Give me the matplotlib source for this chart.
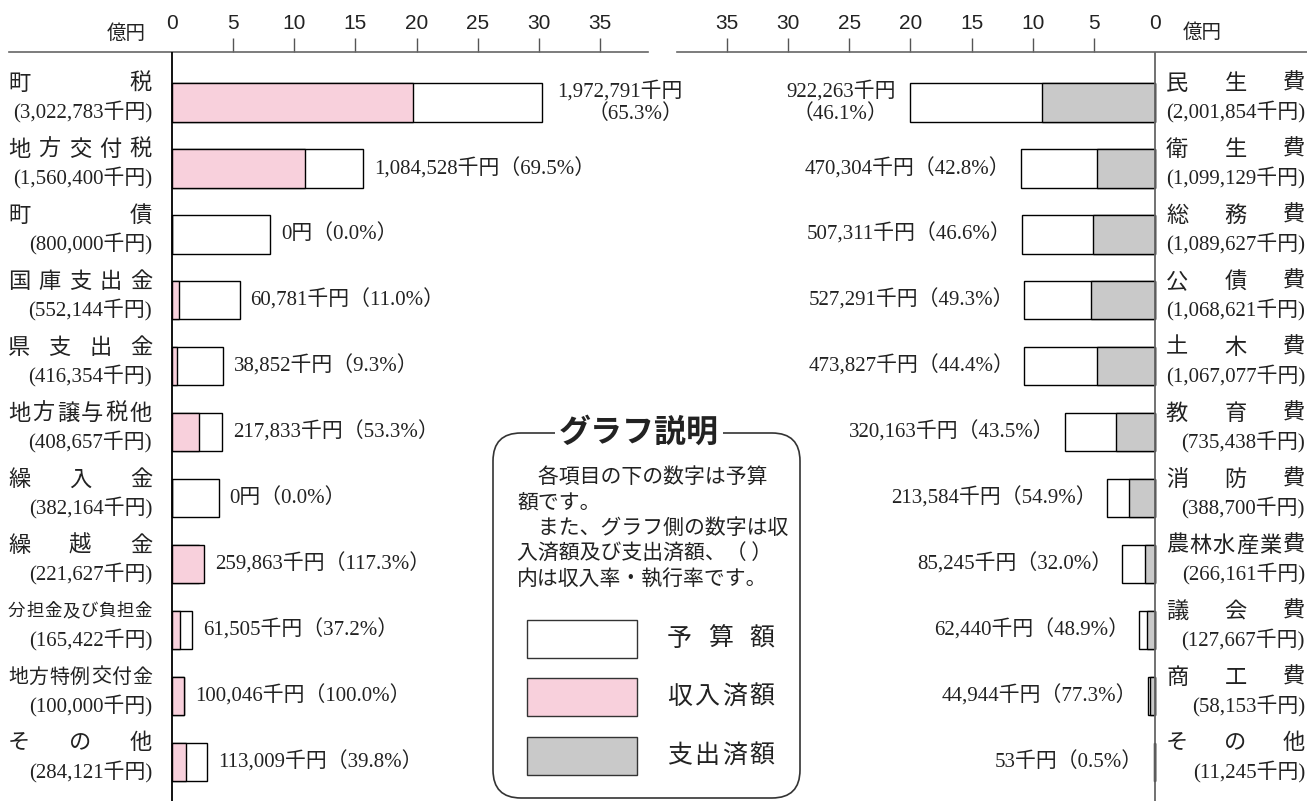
import matplotlib
matplotlib.use("Agg")
import matplotlib.pyplot as plt
from matplotlib import transforms
from matplotlib.patches import FancyBboxPatch, Rectangle

W, H, DPI = 1307, 801, 100

# 歳入 (千円)
rev_names = ["町税", "地方交付税", "町債", "国庫支出金", "県支出金", "地方譲与税他",
             "繰入金", "繰越金", "分担金及び負担金", "地方特例交付金", "その他"]
rev_budget = [3022783, 1560400, 800000, 552144, 416354, 408657,
              382164, 221627, 165422, 100000, 284121]
rev_done = [1972791, 1084528, 0, 60781, 38852, 217833,
            0, 259863, 61505, 100046, 113009]
rev_rate = [65.3, 69.5, 0.0, 11.0, 9.3, 53.3, 0.0, 117.3, 37.2, 100.0, 39.8]

# 歳出 (千円)
exp_names = ["民生費", "衛生費", "総務費", "公債費", "土木費", "教育費",
             "消防費", "農林水産業費", "議会費", "商工費", "その他"]
exp_budget = [2001854, 1099129, 1089627, 1068621, 1067077, 735438,
              388700, 266161, 127667, 58153, 11245]
exp_done = [922263, 470304, 507311, 527291, 473827, 320163,
            213584, 85245, 62440, 44944, 53]
exp_rate = [46.1, 42.8, 46.6, 49.3, 44.4, 43.5, 54.9, 32.0, 48.9, 77.3, 0.5]

tick_vals = [0, 5, 10, 15, 20, 25, 30, 35]

legend_lines = ["　各項目の下の数字は予算", "額です。", "　また、グラフ側の数字は収",
                "入済額及び支出済額、（ ）", "内は収入率・執行率です。"]
legend_items = ["予算額", "収入済額", "支出済額"]

PINK = "#f8d0dc"
GRAY = "#c9c9c9"
INK = "#222222"
JP = "Noto Sans CJK JP"
NUM = ["Liberation Serif", "Noto Sans CJK JP"]

UNIT = 12.23   # px per 億円
ROW = 65.95    # px per row
BAR_H = 0.58

fig = plt.figure(figsize=(W / DPI, H / DPI), dpi=DPI)
# figure pixels, origin top-left
px = transforms.Affine2D().scale(1 / W, -1 / H).translate(0, 1) + fig.transFigure


def px_axes(x0, x1, y_top, y_bot):
    ax = fig.add_axes([x0 / W, 1 - y_bot / H, (x1 - x0) / W, (y_bot - y_top) / H])
    ax.patch.set_visible(False)
    return ax


def style_axis(ax, zero_color):
    for s in ["left", "right", "bottom"]:
        ax.spines[s].set_visible(False)
    ax.spines["top"].set_color("#666666")
    ax.spines["top"].set_linewidth(1.2)
    ax.set_xticks(tick_vals)
    ax.set_xticklabels([str(t) for t in tick_vals], fontfamily="Liberation Sans")
    ax.tick_params(axis="x", top=True, bottom=False, labeltop=True, labelbottom=False,
                   direction="out", length=10, width=1.0, color="#555555",
                   pad=3.6, labelsize=15, labelcolor=INK)
    ax.xaxis.get_major_ticks()[0].tick2line.set_visible(False)
    ax.set_yticks([])
    ax.axvline(0, color=zero_color, lw=1.3, zorder=4)
    ax.set_ylim(10 + (801 - 762) / ROW, -(102.5 - 52) / ROW)


def spread(ax, tr, text, x0, x1, y, fs_max=16):
    # 文字を均等割り付け
    n = len(text)
    fs = min(fs_max, 0.97 * (x1 - x0) / n * 72 / DPI)
    w = fs * DPI / 72
    for i, ch in enumerate(text):
        cx = x0 + w / 2 + i * (x1 - x0 - w) / (n - 1)
        ax.text(cx, y, ch, transform=tr, ha="center", va="center",
                fontsize=fs, family=JP, color=INK)


def fmt(v):
    return "0円" if v == 0 else f"{v:,}千円"


# ---- 歳入 ----
axL = px_axes(9, 648, 52, 801)
axL.set_xlim(-(172 - 9) / UNIT, (648 - 172) / UNIT)
style_axis(axL, "black")
yL = list(range(len(rev_names)))
axL.barh(yL, [v / 1e5 for v in rev_budget], height=BAR_H, color="white",
         edgecolor="black", lw=1.0, zorder=2)
axL.barh(yL, [v / 1e5 for v in rev_done], height=BAR_H, color=PINK,
         edgecolor="black", lw=1.0, zorder=3)
trL = transforms.blended_transform_factory(px, axL.transData)
for i, name in enumerate(rev_names):
    spread(axL, trL, name, 8, 152, i - 19 / ROW)
    axL.text(152, i + 9 / ROW, f"({rev_budget[i]:,}千円)", transform=trL,
             ha="right", va="center", fontsize=15, family=NUM, color=INK)
    end = max(rev_budget[i], rev_done[i]) / 1e5
    if i == 0:
        axL.text(end + 1.3, i, f"{fmt(rev_done[i])}\n（{rev_rate[i]:.1f}%）",
                 ha="left", va="center", multialignment="right",
                 fontsize=15, family=NUM, color=INK, linespacing=1.15)
    else:
        axL.text(end + 0.9, i, f"{fmt(rev_done[i])}（{rev_rate[i]:.1f}%）",
                 ha="left", va="center", fontsize=15, family=NUM, color=INK)
fig.text(146, 33, "億円", transform=px, ha="right", va="center",
         fontsize=14, family=JP, color=INK)

# ---- 歳出 ----
axR = px_axes(677, 1307, 52, 801)
axR.set_xlim((1155 - 677) / UNIT, -(1307 - 1155) / UNIT)
style_axis(axR, "#666666")
yR = list(range(len(exp_names)))
axR.barh(yR, [v / 1e5 for v in exp_budget], height=BAR_H, color="white",
         edgecolor="black", lw=1.0, zorder=2)
axR.barh(yR, [v / 1e5 for v in exp_done], height=BAR_H, color=GRAY,
         edgecolor="black", lw=1.0, zorder=3)
trR = transforms.blended_transform_factory(px, axR.transData)
for i, name in enumerate(exp_names):
    spread(axR, trR, name, 1166, 1305, i - 19 / ROW)
    axR.text(1305, i + 9 / ROW, f"({exp_budget[i]:,}千円)", transform=trR,
             ha="right", va="center", fontsize=15, family=NUM, color=INK)
    end = max(exp_budget[i], exp_done[i]) / 1e5
    if i == 0:
        axR.text(end + 1.2, i, f"{fmt(exp_done[i])}\n（{exp_rate[i]:.1f}%）",
                 ha="right", va="center", multialignment="center",
                 fontsize=15, family=NUM, color=INK, linespacing=1.15)
    else:
        axR.text(end + 0.85, i, f"{fmt(exp_done[i])}（{exp_rate[i]:.1f}%）",
                 ha="right", va="center", fontsize=15, family=NUM, color=INK)
fig.text(1183, 32, "億円", transform=px, ha="left", va="center",
         fontsize=14, family=JP, color=INK)

# ---- グラフ説明 ----
axG = px_axes(493, 800, 433, 798)
axG.set_xlim(0, 307)
axG.set_ylim(365, 0)
axG.axis("off")
axG.add_patch(FancyBboxPatch((0, 0), 307, 365, boxstyle="round,pad=0,rounding_size=28",
                             fc="white", ec="#333333", lw=1.2, clip_on=False))
axG.text(146, 0, "グラフ説明", ha="center", va="center", fontsize=23, weight="bold",
         family=JP, color=INK, bbox=dict(fc="white", ec="none", pad=3))
for k, line in enumerate(legend_lines):
    axG.text(24, 44 + k * 25.5, line, ha="left", va="center", fontsize=15,
             family=JP, color=INK)
sw_colors = ["white", PINK, GRAY]
sw_tops = [187, 245, 304]
for k, item in enumerate(legend_items):
    axG.add_patch(Rectangle((34, sw_tops[k]), 110, 38, fc=sw_colors[k],
                            ec="#333333", lw=1.0))
    spread(axG, axG.transData, item, 174, 281, sw_tops[k] + 19, fs_max=18)

fig.savefig("out.png", dpi=DPI, facecolor="white")
